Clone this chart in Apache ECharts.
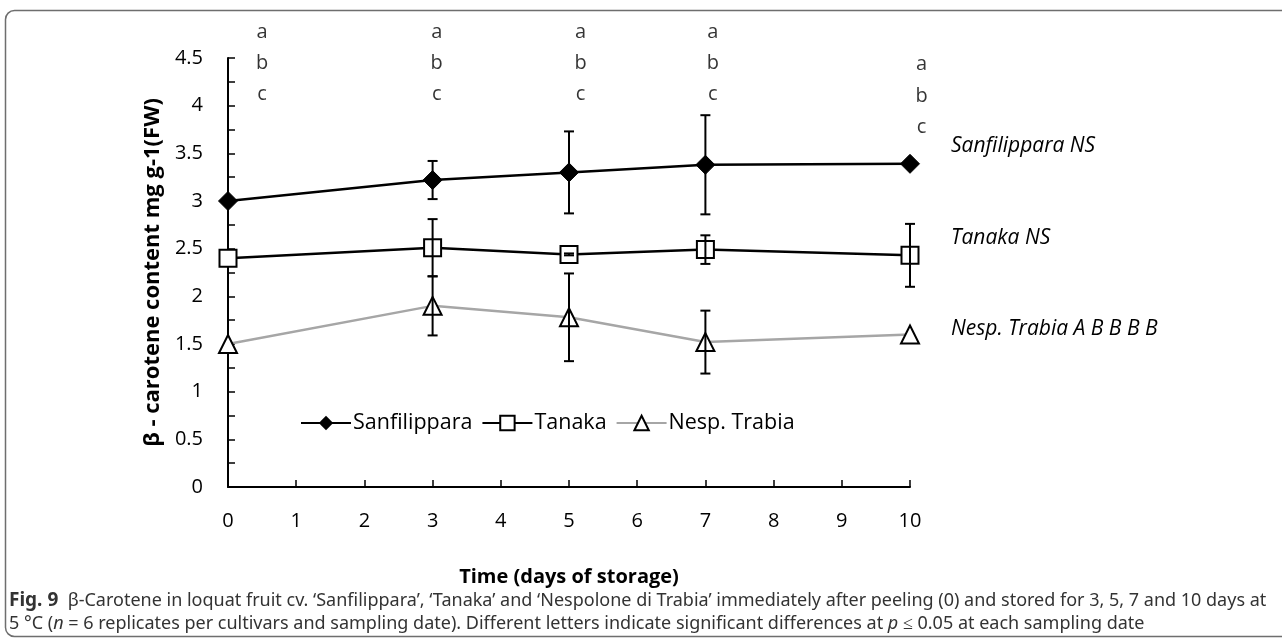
<!DOCTYPE html>
<html><head><meta charset="utf-8">
<script src="https://cdn.jsdelivr.net/npm/echarts@6/dist/echarts.min.js"></script>
<style>html,body{margin:0;padding:0;background:#fff}#c{width:1282px;height:641px}</style>
</head><body><div id="c"></div>
<script>
const days = [0, 3, 5, 7, 10];
const sanfilippara = [3.00, 3.22, 3.30, 3.38, 3.39];
const sanfilipparaErr = [0, 0.20, 0.43, 0.52, 0];
const tanaka = [2.40, 2.51, 2.44, 2.49, 2.43];
const tanakaErr = [0, 0.30, 0.01, 0.15, 0.33];
const trabia = [1.50, 1.90, 1.78, 1.52, 1.60];
const trabiaErr = [0, 0.31, 0.46, 0.33, 0];
const letters = ['a', 'b', 'c'];
const letterX = [0.50, 3.06, 5.17, 7.11, 10.17];
const letterY = [4.77, 4.44, 4.12];
const letterY10 = [4.43, 4.10, 3.77];
const sideLabels = ['Sanfilippara NS', 'Tanaka NS', 'Nesp. Trabia A B B B B'];

const font = 'Open Sans';
const chart = echarts.init(document.getElementById('c'));

function pairs(vals) { return days.map((d, i) => [d, vals[i]]); }
function errData(vals, errs) { return days.map((d, i) => [d, vals[i], errs[i]]).filter(r => r[2] > 0); }
const letterData = [];
days.forEach((d, j) => {
  const ys = d === 10 ? letterY10 : letterY;
  letters.forEach((l, i) => letterData.push([letterX[j], ys[i], l]));
});

function errSeries(name, vals, errs) {
  return {
    type: 'custom', name: name + '_err', data: errData(vals, errs), z: 5, silent: true,
    renderItem: function (params, api) {
      const x = api.value(0), y = api.value(1), e = api.value(2);
      const top = api.coord([x, y + e]);
      const bot = api.coord([x, y - e]);
      const w = 5;
      const st = { stroke: '#000', lineWidth: 2 };
      return { type: 'group', children: [
        { type: 'line', shape: { x1: top[0], y1: top[1], x2: bot[0], y2: bot[1] }, style: st },
        { type: 'line', shape: { x1: top[0] - w, y1: top[1], x2: top[0] + w, y2: top[1] }, style: st },
        { type: 'line', shape: { x1: bot[0] - w, y1: bot[1], x2: bot[0] + w, y2: bot[1] }, style: st }
      ]};
    }
  };
}

chart.setOption({
  animation: false,
  textStyle: { fontFamily: font },
  grid: { left: 228, right: 372, top: 58, bottom: 154, containLabel: false },
  xAxis: {
    type: 'value', min: 0, max: 10, interval: 1,
    axisLine: { lineStyle: { color: '#000', width: 2 } },
    axisTick: { show: true, inside: true, length: 7, lineStyle: { color: '#000', width: 1.5 } },
    axisLabel: { color: '#000', fontSize: 20, margin: 24, fontFamily: font },
    splitLine: { show: false },
    name: 'Time (days of storage)', nameLocation: 'middle', nameGap: 80,
    nameTextStyle: { color: '#000', fontSize: 20, fontWeight: 'bold', fontFamily: font }
  },
  yAxis: {
    type: 'value', min: 0, max: 4.5, interval: 0.5,
    axisLine: { show: true, lineStyle: { color: '#000', width: 2 } },
    axisTick: { show: true, inside: true, length: 7, lineStyle: { color: '#000', width: 1.5 } },
    minorTick: { show: true, splitNumber: 2, length: 7, lineStyle: { color: '#000', width: 1.5 } },
    axisLabel: { color: '#000', fontSize: 20, margin: 25, fontFamily: font,
      formatter: v => String(v) },
    splitLine: { show: false },
    name: 'β - carotene content mg g-1(FW)', nameLocation: 'middle', nameGap: 57,
    nameTextStyle: { color: '#000', fontSize: 22, fontWeight: 'bold', fontFamily: font }
  },
  legend: {
    left: 295, top: 407, itemWidth: 50, itemHeight: 18, itemGap: 9,
    textStyle: { color: '#000', fontSize: 21.5, fontFamily: font, padding: [0, 0, 0, -3] },
    data: ['Sanfilippara', 'Tanaka', 'Nesp. Trabia']
  },
  series: [
    { type: 'line', name: 'Sanfilippara', data: pairs(sanfilippara), z: 3,
      lineStyle: { color: '#000', width: 2.5 }, symbol: 'diamond', symbolSize: 19,
      itemStyle: { color: '#000', borderColor: '#000' } },
    { type: 'line', name: 'Tanaka', data: pairs(tanaka), z: 3,
      lineStyle: { color: '#000', width: 2.5 }, symbol: 'rect', symbolSize: 17,
      itemStyle: { color: '#fff', borderColor: '#000', borderWidth: 2 } },
    { type: 'line', name: 'Nesp. Trabia', data: pairs(trabia), z: 2,
      lineStyle: { color: '#a6a6a6', width: 2.5 }, symbol: 'triangle', symbolSize: 18,
      itemStyle: { color: '#fff', borderColor: '#000', borderWidth: 2 } },
    errSeries('Sanfilippara', sanfilippara, sanfilipparaErr),
    errSeries('Tanaka', tanaka, tanakaErr),
    errSeries('Nesp. Trabia', trabia, trabiaErr),
    { type: 'scatter', name: 'letters', data: letterData, symbolSize: 0, clip: false, silent: true,
      label: { show: true, position: 'inside', color: '#000', fontSize: 20, fontFamily: font,
        formatter: p => p.data[2] } }
  ],
  graphic: [
    { type: 'rect', shape: { x: 5.5, y: 10.5, width: 1320, height: 626, r: 9 },
      style: { fill: 'none', stroke: '#6e6e6e', lineWidth: 1.5 }, silent: true },
    { type: 'text', left: 951, top: 136, style: { text: sideLabels[0], fontSize: 21, fontStyle: 'italic', fontFamily: font, fill: '#000' } },
    { type: 'text', left: 951, top: 228, style: { text: sideLabels[1], fontSize: 21, fontStyle: 'italic', fontFamily: font, fill: '#000' } },
    { type: 'text', left: 951, top: 319, style: { text: sideLabels[2], fontSize: 21, fontStyle: 'italic', fontFamily: font, fill: '#000' } },
    { type: 'text', x: 9, y: 589, scaleX: 1.0, style: {
      text: '{b|Fig. 9}  β-Carotene in loquat fruit cv. ‘Sanfilippara’, ‘Tanaka’ and ‘Nespolone di Trabia’ immediately after peeling (0) and stored for 3, 5, 7 and 10 days at\n5 °C ({i|n} = 6 replicates per cultivars and sampling date). Different letters indicate significant differences at {i|p} ≤ 0.05 at each sampling date',
      fontSize: 18, lineHeight: 23, fontFamily: 'Noto Sans', fill: '#333',
      rich: { b: { fontWeight: 'bold', fontSize: 19, fill: '#333', fontFamily: 'Noto Sans' },
              i: { fontStyle: 'italic', fontSize: 18, fill: '#333', fontFamily: 'Noto Sans' } } } }
  ]
});
</script></body></html>
